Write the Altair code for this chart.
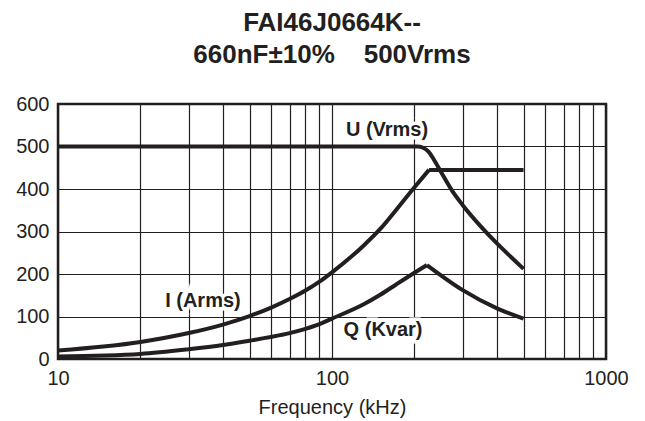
import altair as alt
import pandas as pd

# ---- data ----
u_freq = [10, 205, 215, 225, 235, 250, 275, 300, 347, 400, 450, 500]
u_val = [500, 500, 497, 488, 470, 440, 395, 362, 314, 272, 240, 212]

i_freq = [10, 20, 30, 40, 50, 60, 70, 80, 90, 100, 130, 150, 172, 200, 226, 500]
i_val = [20, 40, 61, 81, 101, 121, 141, 161, 182, 204, 266, 306, 352, 404, 445, 445]
i_peak = 14  # index of the corner where the current curve turns flat

q_freq = [10, 20, 30, 40, 50, 60, 70, 80, 90, 100, 130, 150, 172, 200, 222, 300, 400, 500]
q_val = [6, 12, 23, 33, 43, 52, 61, 71, 82, 95, 128, 151, 176, 203, 221, 162, 119, 95]
q_peak = 14  # index of the peak of the power curve

label_text = ["U (Vrms)", "I (Arms)", "Q (Kvar)"]
label_freq = [158.8, 33.8, 153.6]
label_val = [539, 136, 68]

x_grid = [10, 20, 30, 40, 50, 60, 70, 80, 90, 100, 200, 300, 400, 500, 600,
          700, 800, 900, 1000]
x_labels = [10, 100, 1000]
y_ticks = [0, 100, 200, 300, 400, 500, 600]

title_lines = ["FAI46J0664K--", "660nF±10%\u00a0\u00a0\u00a0\u00a0500Vrms"]
x_title = "Frequency (kHz)"

INK = "#231f20"
FONT = "Liberation Sans"


def seg(freqs, vals, a, b):
    return pd.DataFrame({"f": freqs[a:b], "v": vals[a:b]})


u_df = seg(u_freq, u_val, 0, len(u_freq))
i_up = seg(i_freq, i_val, 0, i_peak + 1)
i_flat = seg(i_freq, i_val, i_peak, len(i_freq))
q_up = seg(q_freq, q_val, 0, q_peak + 1)
q_down = seg(q_freq, q_val, q_peak, len(q_freq))
lab_df = pd.DataFrame({"t": label_text, "f": label_freq, "v": label_val})

label_expr = " || ".join(f"datum.value == {v}" for v in x_labels)
label_expr = f"({label_expr}) ? format(datum.value, 'd') : ''"

xenc = alt.X(
    "f:Q",
    scale=alt.Scale(type="log", domain=[10, 1000], nice=False),
    axis=alt.Axis(
        values=x_grid, labelExpr=label_expr, title=x_title,
        ticks=False, tickSize=0, domain=False, labelPadding=9,
        labelFlush=False, labelOverlap=False, labelFontSize=20,
        labelFont=FONT, labelColor=INK, titleFont=FONT, titleFontSize=20,
        titleFontWeight="normal", titleColor=INK, titlePadding=9,
        gridColor=INK, gridWidth=1.2, gridOpacity=1,
    ),
)
yenc = alt.Y(
    "v:Q",
    scale=alt.Scale(domain=[0, 600], nice=False),
    axis=alt.Axis(
        values=y_ticks, title=None, ticks=False, tickSize=0, domain=False,
        labelPadding=9, labelFontSize=20, labelFont=FONT, labelColor=INK,
        gridColor=INK, gridWidth=1.2, gridOpacity=1,
    ),
)


def curve(df, interp):
    return alt.Chart(df).mark_line(
        color=INK, strokeWidth=4, interpolate=interp
    ).encode(x=xenc, y=yenc)


layers = [
    curve(u_df, "monotone"),
    curve(i_up, "monotone"),
    curve(i_flat, "linear"),
    curve(q_up, "monotone"),
    curve(q_down, "monotone"),
]

halo = alt.Chart(lab_df).mark_text(
    font=FONT, fontSize=20, fontWeight="bold", align="center", baseline="middle",
    color="white", stroke="white", strokeWidth=7,
).encode(x="f:Q", y="v:Q", text="t:N")
labels = alt.Chart(lab_df).mark_text(
    font=FONT, fontSize=20, fontWeight="bold", align="center", baseline="middle",
    color=INK,
).encode(x="f:Q", y="v:Q", text="t:N")

chart = alt.layer(*layers, halo, labels).properties(
    width=548,
    height=255,
    background="white",
    autosize=alt.AutoSizeParams(type="none"),
    padding={"left": 50, "top": 96, "right": 31, "bottom": 62},
    title=alt.TitleParams(
        text=title_lines, font=FONT, fontSize=26, fontWeight="bold",
        lineHeight=32, anchor="middle", offset=26, color=INK,
    ),
).configure_view(stroke=INK, strokeWidth=2.5)

chart.save("out.html", embed_options={"renderer": "svg", "actions": False})
